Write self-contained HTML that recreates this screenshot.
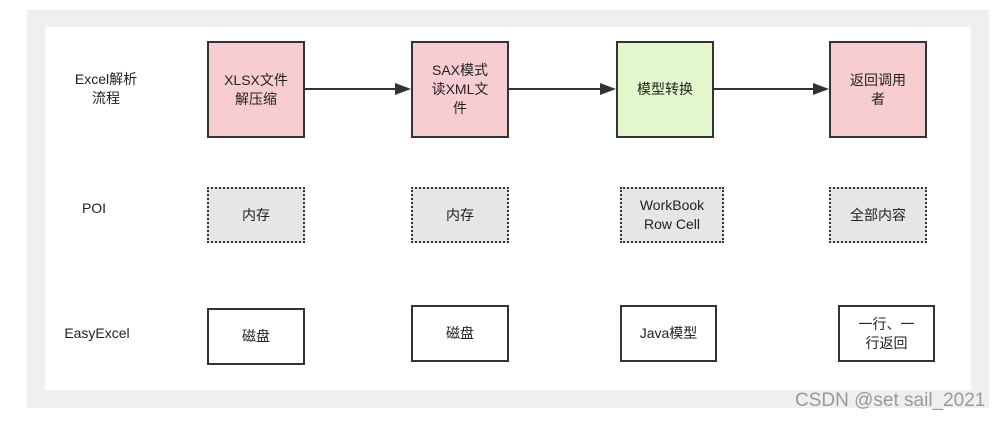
<!DOCTYPE html>
<html><head><meta charset="utf-8"><style>
body{margin:0;width:1004px;height:421px;background:#fff;position:relative;overflow:hidden;font-family:"Liberation Sans","Noto Sans CJK SC",sans-serif;color:#222}
.outer{position:absolute;left:27px;top:10px;width:962px;height:398px;background:#efefef}
.inner{position:absolute;left:45px;top:27px;width:926px;height:363px;background:#fff}
.b{position:absolute;box-sizing:border-box;display:flex;align-items:center;justify-content:center;text-align:center;font-size:14px;line-height:19px;border:2px solid #333}
.p{background:#f8cdd2}
.g{background:#e2f7cc}
.d{background:#e6e6e6;border:2px dotted #333}
.w{background:#fff}
.l{position:absolute;font-size:14px;line-height:19px;text-align:center}
</style></head><body>
<div class="outer"></div><div class="inner"></div>
<div class="l" style="left:66px;top:70px;width:80px">Excel解析<br>流程</div>
<div class="l" style="left:74px;top:199px;width:40px">POI</div>
<div class="l" style="left:57px;top:324px;width:80px">EasyExcel</div>

<div class="b p" style="left:207px;top:41px;width:98px;height:97px">XLSX文件<br>解压缩</div>
<div class="b p" style="left:411px;top:41px;width:98px;height:97px">SAX模式<br>读XML文<br>件</div>
<div class="b g" style="left:616px;top:41px;width:98px;height:97px">模型转换</div>
<div class="b p" style="left:829px;top:41px;width:98px;height:97px">返回调用<br>者</div>

<svg style="position:absolute;left:0;top:0" width="1004" height="421">
<g stroke="#333" stroke-width="2" fill="#333">
<line x1="305" y1="89" x2="398" y2="89"/><polygon points="411,89 395,83 395,95" stroke="none"/>
<line x1="509" y1="89" x2="603" y2="89"/><polygon points="616,89 600,83 600,95" stroke="none"/>
<line x1="714" y1="89" x2="816" y2="89"/><polygon points="829,89 813,83 813,95" stroke="none"/>
</g></svg>

<div class="b d" style="left:207px;top:187px;width:98px;height:56px">内存</div>
<div class="b d" style="left:411px;top:187px;width:98px;height:56px">内存</div>
<div class="b d" style="left:620px;top:187px;width:104px;height:56px">WorkBook<br>Row Cell</div>
<div class="b d" style="left:829px;top:187px;width:98px;height:56px">全部内容</div>

<div class="b w" style="left:207px;top:308px;width:98px;height:57px">磁盘</div>
<div class="b w" style="left:411px;top:305px;width:98px;height:57px">磁盘</div>
<div class="b w" style="left:620px;top:305px;width:97px;height:57px">Java模型</div>
<div class="b w" style="left:838px;top:305px;width:97px;height:57px">一行、一<br>行返回</div>

<div style="position:absolute;left:795px;top:390px;font-size:19px;color:#9a9a9a;white-space:nowrap">CSDN @set sail_2021</div>
</body></html>
